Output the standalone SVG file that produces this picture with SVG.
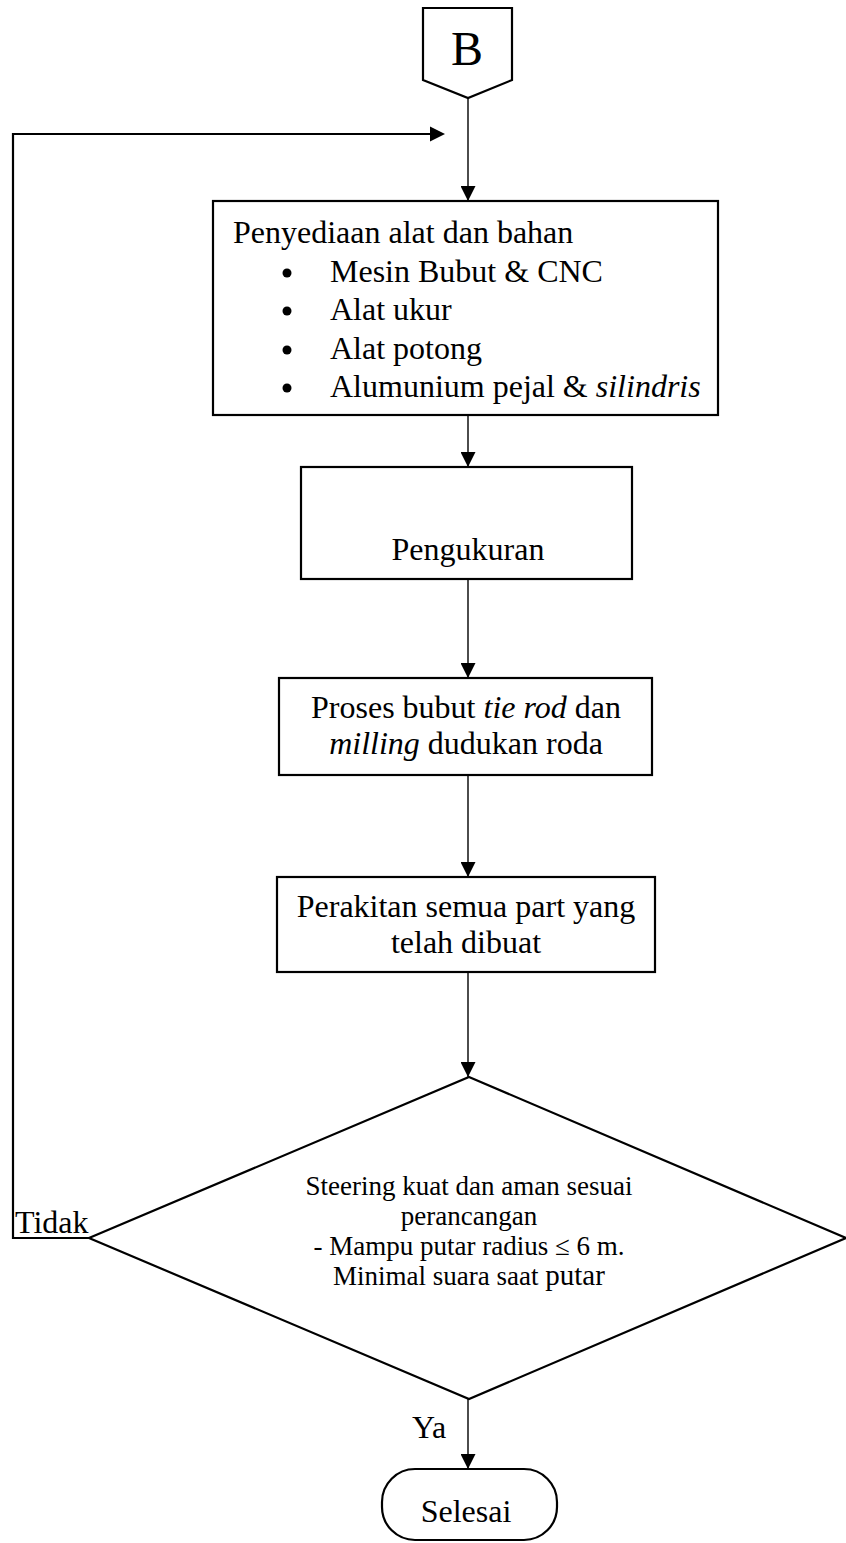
<svg xmlns="http://www.w3.org/2000/svg" width="846" height="1543" viewBox="0 0 846 1543">
  <defs>
    <marker id="arrow" markerUnits="userSpaceOnUse" markerWidth="16" markerHeight="15" refX="15" refY="7.5" orient="auto">
      <path d="M0,0 L15,7.5 L0,15 z" fill="#000"/>
    </marker>
    <style>
      .shape { fill: #fff; stroke: #000; stroke-width: 2.2; }
      .conn { fill: none; stroke: #000; stroke-width: 1.4; marker-end: url(#arrow); }
      .loop { fill: none; stroke: #000; stroke-width: 2.2; }
      .t { font-family: "Liberation Serif", "Times New Roman", serif; font-size: 32px; fill: #000; }
      .mid { text-anchor: middle; }
      .small { font-size: 27px; }
      .big { font-size: 48px; }
    </style>
  </defs>

  <rect width="846" height="1543" fill="#fff"/>

  <!-- connectors -->
  <g id="connectors">
    <line class="conn" x1="468" y1="98" x2="468" y2="201"/>
    <line class="conn" x1="468" y1="415" x2="468" y2="467"/>
    <line class="conn" x1="468" y1="579" x2="468" y2="678"/>
    <line class="conn" x1="468" y1="775" x2="468" y2="877"/>
    <line class="conn" x1="468" y1="972" x2="468" y2="1077"/>
    <line class="conn" x1="468" y1="1399" x2="468" y2="1469"/>
    <!-- "Tidak" loop back to the top -->
    <polyline class="loop" points="89,1238 13,1238 13,134 430,134"/>
    <path d="M430,126.5 L445,134 L430,141.5 z" fill="#000"/>
    <text class="t" x="15" y="1233" font-size="31">Tidak</text>
    <text class="t" x="412" y="1438" font-size="30">Ya</text>
  </g>

  <!-- off-page connector B -->
  <g id="node-b">
    <polygon class="shape" points="423,8 512,8 512,80 468,98 423,80"/>
    <text class="t big mid" x="467" y="65">B</text>
  </g>

  <!-- preparation of tools and materials -->
  <g id="node-persiapan">
    <rect class="shape" x="213" y="201" width="505" height="214"/>
    <text class="t" x="233" y="243">Penyediaan alat dan bahan</text>
    <circle cx="287" cy="273" r="4.5"/>
    <text class="t" x="330" y="282">Mesin Bubut &amp; CNC</text>
    <circle cx="287" cy="311" r="4.5"/>
    <text class="t" x="330" y="320">Alat ukur</text>
    <circle cx="287" cy="350" r="4.5"/>
    <text class="t" x="330" y="359">Alat potong</text>
    <circle cx="287" cy="388" r="4.5"/>
    <text class="t" x="330" y="397">Alumunium pejal &amp; <tspan font-style="italic">silindris</tspan></text>
  </g>

  <g id="node-pengukuran">
    <rect class="shape" x="301" y="467" width="331" height="112"/>
    <text class="t mid" x="468" y="560">Pengukuran</text>
  </g>

  <g id="node-proses">
    <rect class="shape" x="279" y="678" width="373" height="97"/>
    <text class="t mid" x="466" y="718">Proses bubut <tspan font-style="italic">tie rod</tspan> dan</text>
    <text class="t mid" x="466" y="754"><tspan font-style="italic">milling</tspan> dudukan roda</text>
  </g>

  <g id="node-perakitan">
    <rect class="shape" x="277" y="877" width="378" height="95"/>
    <text class="t mid" x="466" y="917">Perakitan semua part yang</text>
    <text class="t mid" x="466" y="953">telah dibuat</text>
  </g>

  <g id="node-keputusan">
    <polygon class="shape" points="469,1077 846,1238 469,1399 89,1238"/>
    <text class="t small mid" x="469" y="1195">Steering kuat dan aman sesuai</text>
    <text class="t small mid" x="469" y="1225">perancangan</text>
    <text class="t small mid" x="469" y="1255">- Mampu putar radius ≤ 6 m.</text>
    <text class="t small mid" x="469" y="1285">Minimal suara saat <tspan font-size="29">putar</tspan></text>
  </g>

  <g id="node-selesai">
    <rect class="shape" x="382" y="1469" width="175" height="71" rx="33" ry="33"/>
    <text class="t mid" x="466" y="1522">Selesai</text>
  </g>
</svg>
